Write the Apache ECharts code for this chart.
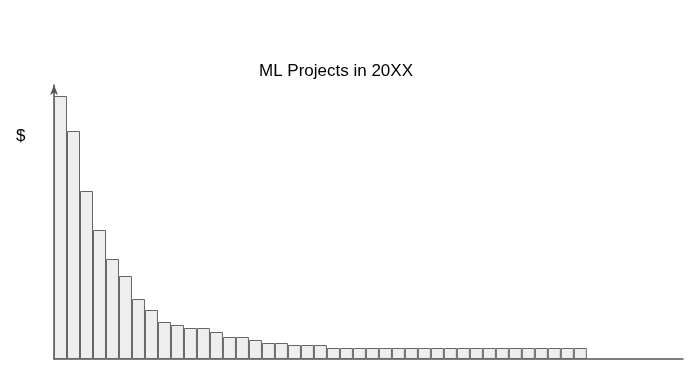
<!DOCTYPE html>
<html>
<head>
<meta charset="utf-8">
<script src="https://cdn.jsdelivr.net/npm/echarts@6/dist/echarts.min.js"></script>
<style>html,body{margin:0;padding:0;background:#fff}#c{width:700px;height:382px}</style>
</head>
<body>
<div id="c"></div>
<script>
const titleText = 'ML Projects in 20XX';
const yAxisLabel = '$';
const projectValues = [263, 228, 168, 129, 100, 83, 60, 49, 37, 34, 31, 31, 27, 22, 22, 19, 16, 16, 14, 14, 14,
  11, 11, 11, 11, 11, 11, 11, 11, 11, 11, 11, 11, 11, 11, 11, 11, 11, 11, 11, 11];
const categories = projectValues.map((v, i) => 'P' + (i + 1));
const xSlots = 48.4;
const yMax = 274;

const chart = echarts.init(document.getElementById('c'), null, {renderer: 'canvas'});
chart.setOption({
  animation: false,
  backgroundColor: '#ffffff',
  title: {
    text: titleText,
    left: 331, top: 58, textAlign: 'center',
    textStyle: {fontFamily: 'Liberation Sans, Arial, sans-serif', fontSize: 17, fontWeight: 'normal', color: '#000'}
  },
  graphic: [{
    type: 'text', left: 16, top: 128,
    style: {text: yAxisLabel, font: '17px "Liberation Sans", Arial, sans-serif', fill: '#000'}
  }],
  grid: {left: 54, right: 17, top: 85, bottom: 23, containLabel: false},
  xAxis: {
    type: 'value', min: 0, max: xSlots,
    axisLine: {show: true, lineStyle: {color: '#555', width: 1.5}},
    axisTick: {show: false}, axisLabel: {show: false}, splitLine: {show: false}
  },
  yAxis: {
    type: 'value', min: 0, max: yMax,
    axisLine: {show: true, symbol: ['none', 'arrow'], symbolSize: [6, 10], lineStyle: {color: '#555', width: 1.5}},
    axisTick: {show: false}, axisLabel: {show: false}, splitLine: {show: false}
  },
  series: [{
    type: 'bar',
    barWidth: 13,
    data: projectValues.map((v, i) => ({name: categories[i], value: [i + 0.5, v]})),
    itemStyle: {color: '#eeeeee', borderColor: '#666', borderWidth: 1}
  }]
});
</script>
</body>
</html>
